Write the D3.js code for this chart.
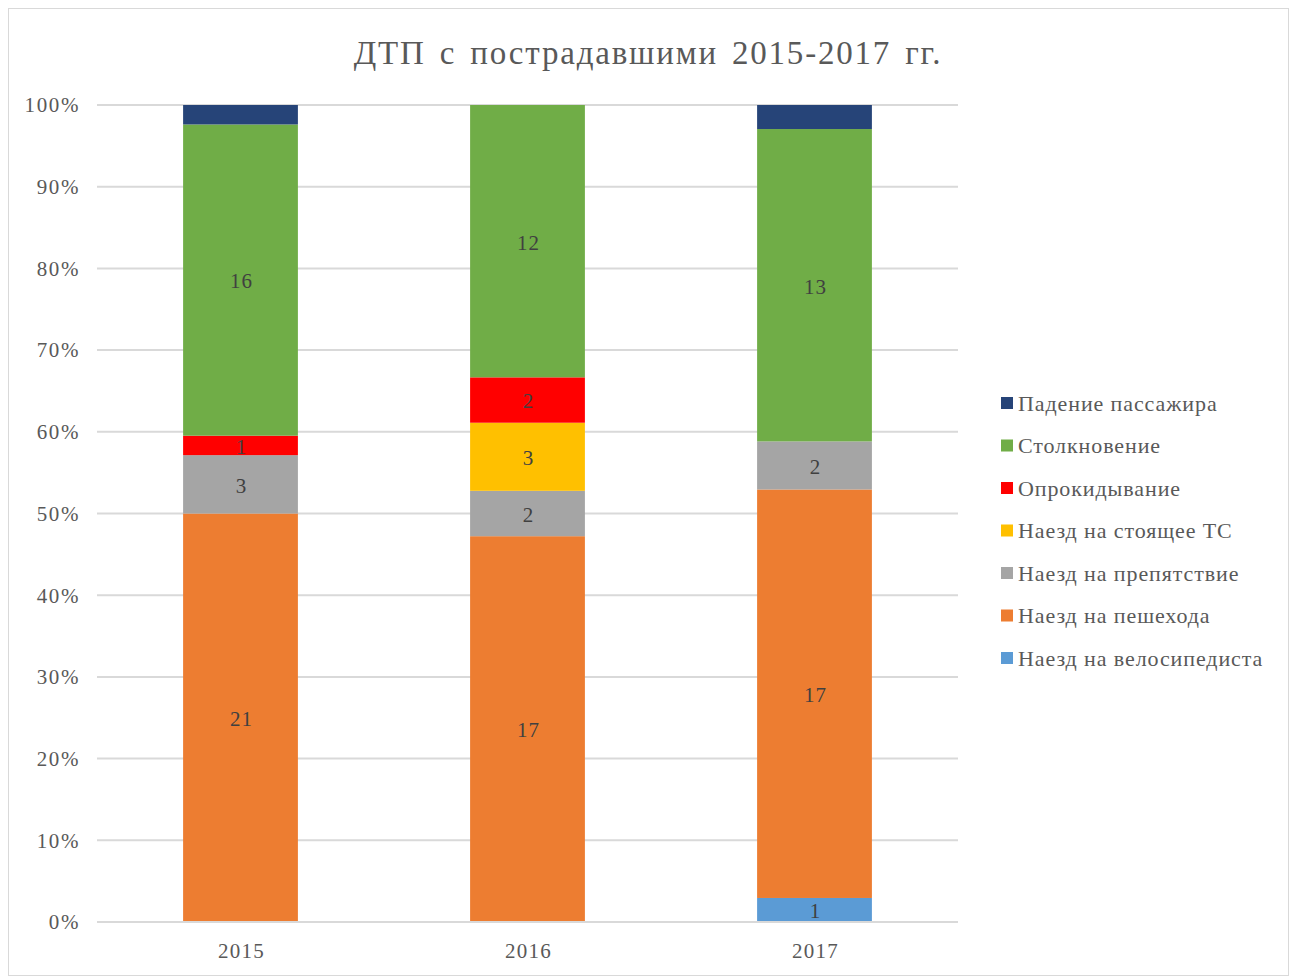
<!DOCTYPE html>
<html>
<head>
<meta charset="utf-8">
<script src="https://cdn.jsdelivr.net/npm/d3@7"></script>
<style>
  body { margin: 0; background: #fff; }
  text { font-family: "Liberation Serif", "Times New Roman", serif; }
</style>
</head>
<body>
<div id="chart"></div>
<script>
// data
var years = ['2015', '2016', '2017'];
var seriesNames = ['Наезд на велосипедиста', 'Наезд на пешехода', 'Наезд на препятствие',
                   'Наезд на стоящее ТС', 'Опрокидывание', 'Столкновение', 'Падение пассажира'];
var seriesColors = ['#5b9bd5', '#ed7d31', '#a5a5a5', '#ffc000', '#ff0000', '#70ad47', '#264478'];
var cyclist    = [0, 0, 1];
var pedestrian = [21, 17, 17];
var obstacle   = [3, 2, 2];
var standingTS = [0, 3, 0];
var overturn   = [1, 2, 0];
var collision  = [16, 12, 13];
var passenger  = [1, 0, 1];
var showLabel  = [true, true, true, true, true, true, false];
var yTicks = [0, 0.1, 0.2, 0.3, 0.4, 0.5, 0.6, 0.7, 0.8, 0.9, 1];

var values = [cyclist, pedestrian, obstacle, standingTS, overturn, collision, passenger];
var rows = years.map(function(y, i) {
  var r = { year: y };
  seriesNames.forEach(function(s, k) { r[s] = values[k][i]; });
  return r;
});

var W = 1297, H = 980;
var margin = { left: 97, right: 339, top: 105, bottom: 58 };

var svg = d3.select('#chart').append('svg').attr('width', W).attr('height', H);

// outer frame
svg.append('rect').attr('x', 8.5).attr('y', 8.5).attr('width', W - 17).attr('height', H - 13)
   .attr('fill', '#fff').attr('stroke', '#d9d9d9').attr('stroke-width', 1);

var x = d3.scaleBand().domain(years).range([margin.left, W - margin.right])
          .paddingInner(0.6).paddingOuter(0.3);
var y = d3.scaleLinear().domain([0, 1]).range([H - margin.bottom, margin.top]);

// grid
svg.append('g').selectAll('line').data(yTicks).enter().append('line')
   .attr('x1', margin.left).attr('x2', W - margin.right)
   .attr('y1', function(d) { return y(d); }).attr('y2', function(d) { return y(d); })
   .attr('stroke', '#d9d9d9').attr('stroke-width', 2);

// y tick labels
svg.append('g').selectAll('text').data(yTicks).enter().append('text')
   .attr('x', 80).attr('y', function(d) { return y(d); }).attr('dy', '0.35em')
   .attr('text-anchor', 'end').attr('font-size', 21).attr('letter-spacing', 1.6)
   .attr('fill', '#595959')
   .text(d3.format('.0%'));

// stacks (percent)
var stack = d3.stack().keys(seriesNames).offset(d3.stackOffsetExpand);
var layers = stack(rows);

var g = svg.append('g').selectAll('g').data(layers).enter().append('g')
   .attr('fill', function(d, i) { return seriesColors[i]; });

g.selectAll('rect').data(function(d) { return d; }).enter().append('rect')
   .attr('x', function(d) { return x(d.data.year); })
   .attr('width', x.bandwidth())
   .attr('y', function(d) { return y(d[1]); })
   .attr('height', function(d) { return y(d[0]) - y(d[1]); });

// value labels
layers.forEach(function(layer, k) {
  if (!showLabel[k]) return;
  layer.forEach(function(d) {
    var v = d.data[layer.key];
    if (!v) return;
    svg.append('text')
       .attr('x', x(d.data.year) + x.bandwidth() / 2 + 1)
       .attr('y', (y(d[0]) + y(d[1])) / 2 + 1).attr('dy', '0.35em')
       .attr('text-anchor', 'middle').attr('font-size', 21).attr('letter-spacing', 1)
       .attr('fill', '#404040')
       .text(v);
  });
});

// bottom axis line
svg.append('line').attr('x1', margin.left).attr('x2', W - margin.right)
   .attr('y1', y(0)).attr('y2', y(0)).attr('stroke', '#d9d9d9').attr('stroke-width', 2);

// x labels
svg.append('g').selectAll('text').data(years).enter().append('text')
   .attr('x', function(d) { return x(d) + x.bandwidth() / 2 + 1; })
   .attr('y', y(0) + 29).attr('dy', '0.35em')
   .attr('text-anchor', 'middle').attr('font-size', 21).attr('letter-spacing', 1.2)
   .attr('fill', '#595959')
   .text(function(d) { return d; });

// title
svg.append('text').attr('x', 648).attr('y', 64).attr('text-anchor', 'middle')
   .attr('font-size', 33).attr('letter-spacing', 1.8).attr('word-spacing', 4)
   .attr('fill', '#595959')
   .text('ДТП с пострадавшими 2015-2017 гг.');

// legend (reversed order, top = last series)
var legendItems = seriesNames.map(function(s, i) { return { name: s, color: seriesColors[i] }; }).reverse();
var lg = svg.append('g').selectAll('g').data(legendItems).enter().append('g')
   .attr('transform', function(d, i) { return 'translate(1001,' + (403 + i * 42.5) + ')'; });
lg.append('rect').attr('x', 0).attr('y', -6).attr('width', 12).attr('height', 12)
   .attr('fill', function(d) { return d.color; });
lg.append('text').attr('x', 17).attr('y', 0).attr('dy', '0.35em')
   .attr('font-size', 22).attr('letter-spacing', 0.9)
   .attr('fill', '#595959')
   .text(function(d) { return d.name; });
</script>
</body>
</html>
